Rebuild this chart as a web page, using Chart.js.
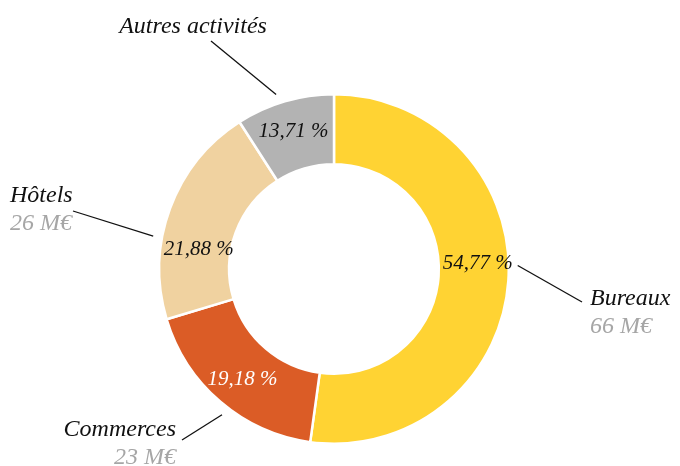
<!DOCTYPE html>
<html>
<head>
<meta charset="utf-8">
<script src="https://cdn.jsdelivr.net/npm/chart.js@4"></script>
<style>
  html, body { margin: 0; padding: 0; background: #fff; }
  #wrap { width: 680px; height: 466px; }
</style>
</head>
<body>
<div id="wrap"><canvas id="chart" width="680" height="466"></canvas></div>
<script>
// data
const categories = ['Bureaux', 'Commerces', 'Hôtels', 'Autres activités'];
const amounts = [66, 23, 26, 11.5];          // M€ (slice sizes)
const amountLabels = ['66 M€', '23 M€', '26 M€', ''];
const percentLabels = ['54,77 %', '19,18 %', '21,88 %', '13,71 %'];
const colors = ['#FFD333', '#DB5C26', '#F0D2A0', '#B3B3B3'];
const percentColors = ['#111', '#fff', '#111', '#111'];

const FONT = '"Liberation Serif", "DejaVu Serif", serif';

// where the outside labels sit (text anchor, line end, nudge of line start angle in degrees)
const outside = [
  { x: 590, y: 305, align: 'left',   lineEnd: [582, 302], nudge: -5 },
  { x: 176, y: 436, align: 'right',  lineEnd: [182, 440], nudge: -3 },
  { x: 10,  y: 202, align: 'left',   lineEnd: [73, 211],  nudge: -10 },
  { x: 193, y: 33,  align: 'center', lineEnd: [211, 41],  nudge: -2 }
];
const percentNudge = [-6, -1, -12, 0];
const percentRadius = [4, 4, -3, 4];

const labelPlugin = {
  id: 'labels',
  afterDraw(chart) {
    const ctx = chart.ctx;
    const meta = chart.getDatasetMeta(0);
    ctx.save();
    meta.data.forEach((arc, i) => {
      const p = arc.getProps(['x', 'y', 'startAngle', 'endAngle', 'innerRadius', 'outerRadius'], true);
      const mid = (p.startAngle + p.endAngle) / 2;

      // percent inside ring
      const a = mid + percentNudge[i] * Math.PI / 180;
      const r = (p.innerRadius + p.outerRadius) / 2 + percentRadius[i];
      ctx.font = 'italic 21px ' + FONT;
      ctx.fillStyle = percentColors[i];
      ctx.textAlign = 'center';
      ctx.textBaseline = 'middle';
      ctx.fillText(percentLabels[i], p.x + Math.cos(a) * r, p.y + Math.sin(a) * r);

      // leader line
      const o = outside[i];
      const la = mid + o.nudge * Math.PI / 180;
      const lr = p.outerRadius + 9;
      ctx.strokeStyle = '#111';
      ctx.lineWidth = 1.3;
      ctx.beginPath();
      ctx.moveTo(p.x + Math.cos(la) * lr, p.y + Math.sin(la) * lr);
      ctx.lineTo(o.lineEnd[0], o.lineEnd[1]);
      ctx.stroke();

      // category + amount
      ctx.font = 'italic 24px ' + FONT;
      ctx.textAlign = o.align;
      ctx.textBaseline = 'alphabetic';
      ctx.fillStyle = '#111';
      ctx.fillText(categories[i], o.x, o.y);
      if (amountLabels[i]) {
        ctx.fillStyle = '#A6A6A6';
        ctx.fillText(amountLabels[i], o.x, o.y + 28);
      }
    });
    ctx.restore();
  }
};

new Chart(document.getElementById('chart'), {
  type: 'doughnut',
  data: {
    labels: categories,
    datasets: [{
      data: amounts,
      backgroundColor: colors,
      borderColor: '#fff',
      borderWidth: 2.5
    }]
  },
  options: {
    responsive: false,
    animation: false,
    cutout: '60%',
    layout: { padding: { top: 93, bottom: 21, left: 158, right: 170 } },
    plugins: {
      legend: { display: false },
      tooltip: { enabled: false }
    }
  },
  plugins: [labelPlugin]
});
</script>
</body>
</html>
